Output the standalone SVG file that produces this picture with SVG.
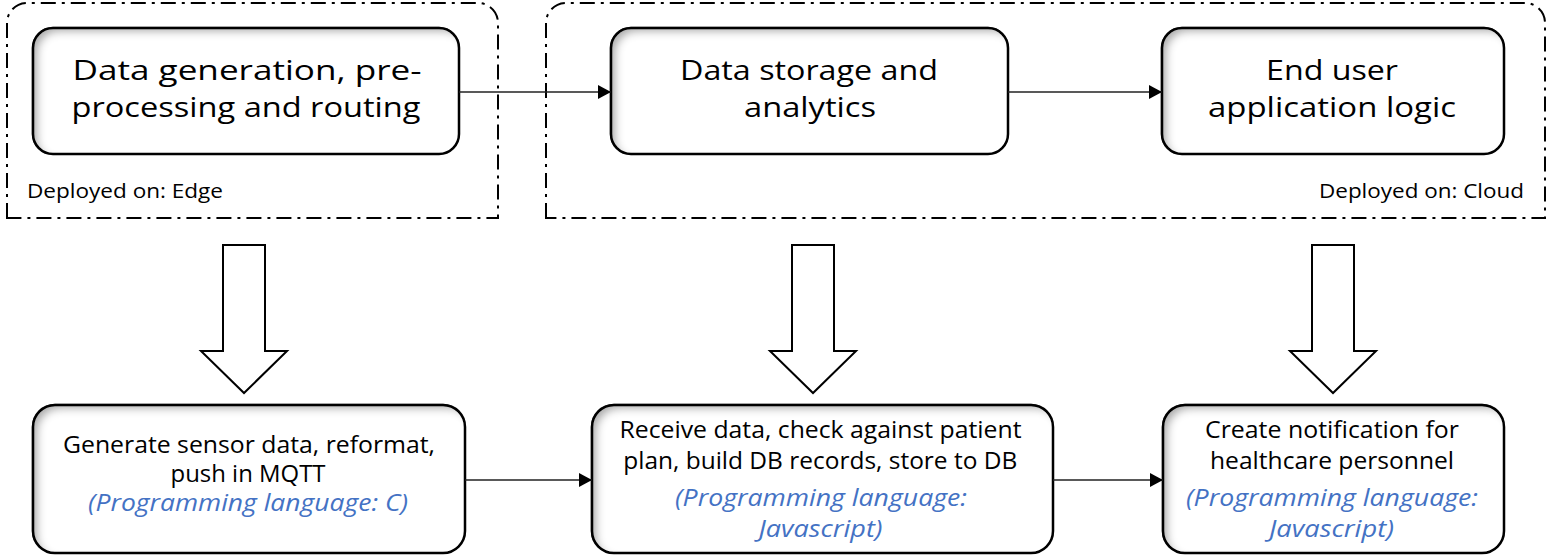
<svg xmlns="http://www.w3.org/2000/svg" width="1548" height="556" viewBox="0 0 1548 556">
<style>
.bg{fill:#fff}
.cont{fill:none;stroke:#000;stroke-width:2;stroke-dasharray:15 6 3 6}
.box{fill:#fff;stroke:#000;stroke-width:2.5}
.blk{fill:#fff;stroke:#000;stroke-width:2;stroke-linejoin:miter}
.conn{fill:none;stroke:#222;stroke-width:1.5}
text{font-family:"Open Sans","Noto Sans","Liberation Sans",sans-serif;fill:#000;text-anchor:middle}
.t1{font-size:28px}
.t2{font-size:23px}
.t3{font-size:20px}
.lang{fill:#4472C4;font-style:italic}
</style>
<defs>
<filter id="inner" x="-5%" y="-10%" width="110%" height="120%">
<feComponentTransfer in="SourceAlpha" result="inv"><feFuncA type="table" tableValues="1 0"/></feComponentTransfer>
<feGaussianBlur in="inv" stdDeviation="4"/>
<feOffset dx="6" dy="5" result="ob"/>
<feFlood flood-color="#000" flood-opacity="0.6"/>
<feComposite in2="ob" operator="in"/>
<feComposite in2="SourceAlpha" operator="in" result="sh"/>
<feMerge><feMergeNode in="SourceGraphic"/><feMergeNode in="sh"/></feMerge>
</filter>
<marker id="arr" markerUnits="userSpaceOnUse" markerWidth="13" markerHeight="14" refX="13" refY="7" orient="auto">
<path d="M0,0 L13,7 L0,14 Z" fill="#000"/>
</marker>
</defs>
<rect class="bg" x="0" y="0" width="1548" height="556"/>

<g id="edge-container">
<path class="cont" d="M7,218 V23 A20,20 0 0 1 27,3 H478 A20,20 0 0 1 498,23 V218 Z"/>
<text class="t3" x="125" y="198" textLength="196" lengthAdjust="spacingAndGlyphs">Deployed on: Edge</text>
</g>
<g id="cloud-container">
<path class="cont" d="M546,218 V23 A20,20 0 0 1 566,3 H1525 A20,20 0 0 1 1545,23 V218 Z"/>
<text class="t3" x="1421.5" y="198" textLength="205" lengthAdjust="spacingAndGlyphs">Deployed on: Cloud</text>
</g>

<g id="n-edge">
<rect class="box" x="33" y="28" width="426" height="126" rx="20" filter="url(#inner)"/>
<text class="t1" x="247" y="80" textLength="349" lengthAdjust="spacingAndGlyphs">Data generation, pre-</text>
<text class="t1" x="246" y="117" textLength="349" lengthAdjust="spacingAndGlyphs">processing and routing</text>
</g>
<g id="n-storage">
<rect class="box" x="611" y="28" width="397" height="126" rx="20" filter="url(#inner)"/>
<text class="t1" x="809" y="80" textLength="258" lengthAdjust="spacingAndGlyphs">Data storage and</text>
<text class="t1" x="810" y="117" textLength="132" lengthAdjust="spacingAndGlyphs">analytics</text>
</g>
<g id="n-enduser">
<rect class="box" x="1162" y="28" width="342" height="126" rx="20" filter="url(#inner)"/>
<text class="t1" x="1332" y="80" textLength="132" lengthAdjust="spacingAndGlyphs">End user</text>
<text class="t1" x="1332" y="117" textLength="248" lengthAdjust="spacingAndGlyphs">application logic</text>
</g>

<g id="a-left">
<path class="blk" d="M223,245 H265 V351 H287 L244,393 L201,351 H223 Z"/>
</g>
<g id="a-mid">
<path class="blk" d="M792,245 H834 V351 H856 L813,393 L770,351 H792 Z"/>
</g>
<g id="a-right">
<path class="blk" d="M1312,245 H1354 V351 H1376 L1333,393 L1290,351 H1312 Z"/>
</g>

<g id="b-generate">
<rect class="box" x="33" y="405" width="432" height="148" rx="22" filter="url(#inner)"/>
<text class="t2" x="249" y="453" textLength="372" lengthAdjust="spacingAndGlyphs">Generate sensor data, reformat,</text>
<text class="t2" x="248" y="482" textLength="155" lengthAdjust="spacingAndGlyphs">push in MQTT</text>
<text class="t2 lang" x="248" y="511" textLength="320" lengthAdjust="spacingAndGlyphs">(Programming language: C)</text>
</g>
<g id="b-receive">
<rect class="box" x="592" y="405" width="461" height="148" rx="22" filter="url(#inner)"/>
<text class="t2" x="820.5" y="438" textLength="402" lengthAdjust="spacingAndGlyphs">Receive data, check against patient</text>
<text class="t2" x="820.3" y="469" textLength="394" lengthAdjust="spacingAndGlyphs">plan, build DB records, store to DB</text>
<text class="t2 lang" x="821" y="506" textLength="292" lengthAdjust="spacingAndGlyphs">(Programming language:</text>
<text class="t2 lang" x="820.5" y="537" textLength="124" lengthAdjust="spacingAndGlyphs">Javascript)</text>
</g>
<g id="b-notify">
<rect class="box" x="1163" y="405" width="341" height="148" rx="22" filter="url(#inner)"/>
<text class="t2" x="1332" y="438" textLength="254" lengthAdjust="spacingAndGlyphs">Create notification for</text>
<text class="t2" x="1332" y="469" textLength="244" lengthAdjust="spacingAndGlyphs">healthcare personnel</text>
<text class="t2 lang" x="1332" y="506" textLength="292" lengthAdjust="spacingAndGlyphs">(Programming language:</text>
<text class="t2 lang" x="1331.5" y="537" textLength="125" lengthAdjust="spacingAndGlyphs">Javascript)</text>
</g>

<g id="connectors">
<line class="conn" x1="459" y1="92" x2="611" y2="92" marker-end="url(#arr)"/>
<line class="conn" x1="1008" y1="92" x2="1162" y2="92" marker-end="url(#arr)"/>
<line class="conn" x1="465" y1="480" x2="592" y2="480" marker-end="url(#arr)"/>
<line class="conn" x1="1053" y1="480" x2="1163" y2="480" marker-end="url(#arr)"/>
</g>
</svg>
